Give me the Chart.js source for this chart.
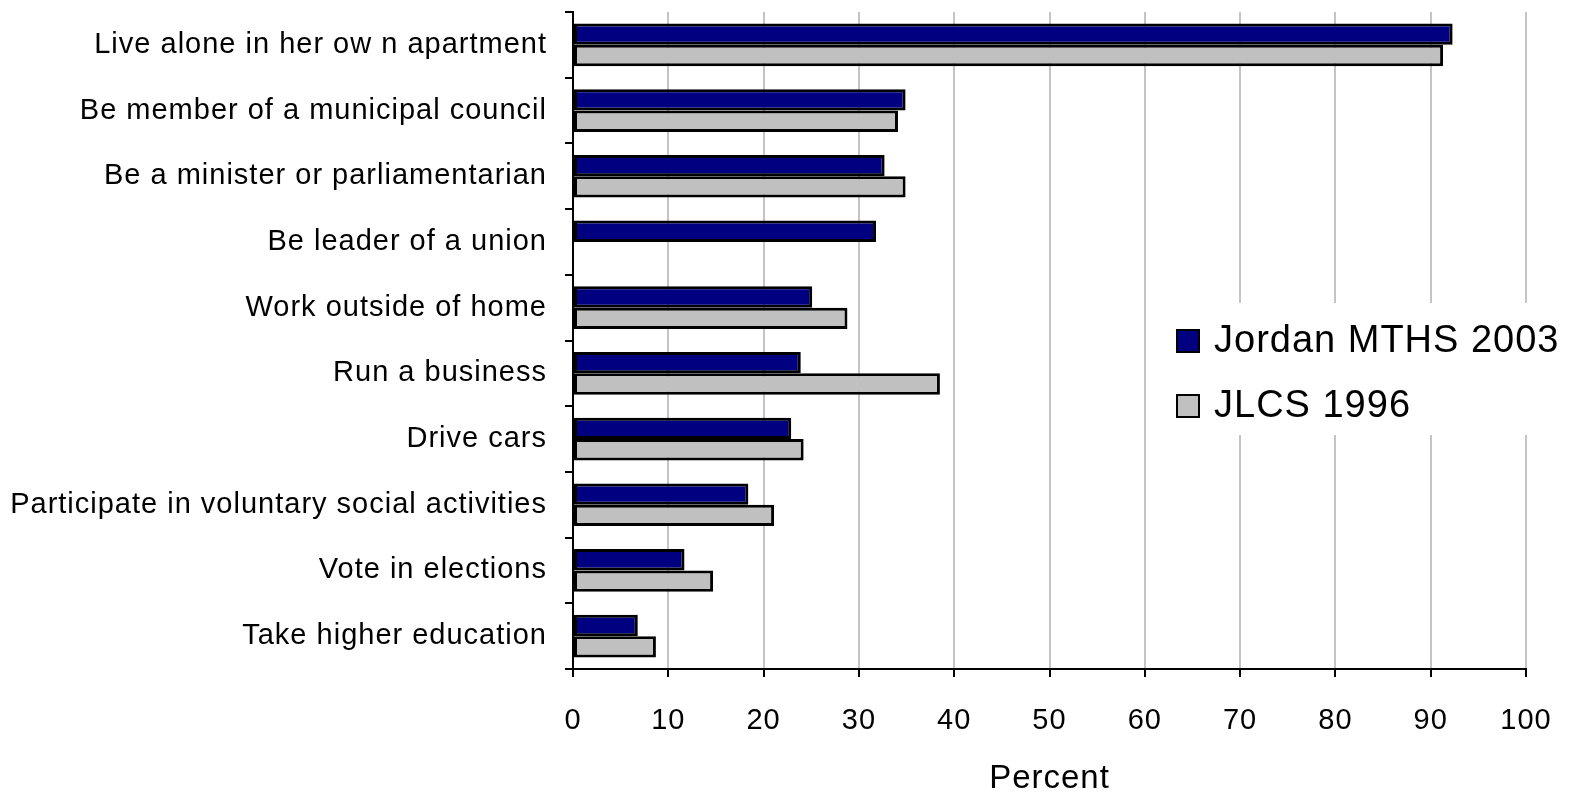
<!DOCTYPE html>
<html>
<head>
<meta charset="utf-8">
<title>Women's roles survey</title>
<script src="https://cdn.jsdelivr.net/npm/chart.js@4"></script>
<style>
  html, body { margin: 0; padding: 0; background: #fff; }
  #chart { display: block; }
</style>
</head>
<body>
<canvas id="chart" width="1569" height="792"></canvas>
<script>
// Categories, top to bottom
const categories = [
    'Live alone in her ow n apartment',
    'Be member of a municipal council',
    'Be a minister or parliamentarian',
    'Be leader of a union',
    'Work outside of home',
    'Run a business',
    'Drive cars',
    'Participate in voluntary social activities',
    'Vote in elections',
    'Take higher education'
];

// Percent, per survey
const mths2003 = [92.3, 34.9, 32.7, 31.8, 25.1, 23.9, 22.9, 18.4, 11.7, 6.8];
const jlcs1996 = [91.3, 34.1, 34.9, null, 28.8, 38.5, 24.2, 21.1, 14.7, 8.7];

const xTicks = [0, 10, 20, 30, 40, 50, 60, 70, 80, 90, 100];

const FONT = 'Liberation Sans, Arial, sans-serif';

// slightly looser text spacing for everything on the canvas
const looseText = {
    id: 'looseText',
    beforeDraw(chart) {
        chart.ctx.letterSpacing = '1px';
    }
};

// legend drawn over the plot, with a white patch behind it
const overlayLegend = {
    id: 'overlayLegend',
    afterDraw(chart) {
        const c = chart.ctx;
        c.save();
        c.fillStyle = '#ffffff';
        c.fillRect(1160, 303, 409, 132);
        c.font = '38px ' + FONT;
        c.textBaseline = 'middle';
        chart.data.datasets.forEach((ds, i) => {
            const y = 341 + i * 65;
            c.fillStyle = ds.backgroundColor;
            c.fillRect(1177, y - 11, 22, 22);
            c.lineWidth = 2;
            c.strokeStyle = '#000';
            c.strokeRect(1177, y - 11, 22, 22);
            c.fillStyle = '#000';
            c.fillText(ds.label, 1214, y + 1);
        });
        c.restore();
    }
};

new Chart(document.getElementById('chart'), {
    type: 'bar',
    data: {
        labels: categories,
        datasets: [
            {
                label: 'Jordan MTHS 2003',
                data: mths2003,
                backgroundColor: '#000080',
                borderColor: '#000000',
                borderWidth: 3,
                borderSkipped: false,
                categoryPercentage: 0.65,
                barPercentage: 1.0
            },
            {
                label: 'JLCS 1996',
                data: jlcs1996,
                backgroundColor: '#c0c0c0',
                borderColor: '#000000',
                borderWidth: 3,
                borderSkipped: false,
                categoryPercentage: 0.65,
                barPercentage: 1.0
            }
        ]
    },
    options: {
        indexAxis: 'y',
        responsive: false,
        animation: false,
        devicePixelRatio: 1,
        layout: { padding: { left: 0, right: 43, top: 12, bottom: 0 } },
        scales: {
            x: {
                min: 0,
                max: 100,
                afterBuildTicks: (scale) => { scale.ticks = xTicks.map(v => ({ value: v })); },
                afterFit: (scale) => {
                    scale.height = 123;
                    scale.paddingLeft = 0;
                    scale.paddingRight = 0;
                },
                grid: {
                    color: (ctx) => ctx.tick && ctx.tick.value === 0 ? 'rgba(0,0,0,0)' : '#c4c4c4',
                    lineWidth: 2,
                    tickColor: '#000',
                    tickLength: 8,
                    drawOnChartArea: true
                },
                border: { color: '#000', width: 2 },
                ticks: {
                    color: '#000',
                    font: { family: FONT, size: 29 },
                    padding: 27,
                    maxRotation: 0
                },
                title: {
                    display: true,
                    text: 'Percent',
                    color: '#000',
                    font: { family: FONT, size: 33 },
                    padding: { top: 0, bottom: -7 }
                }
            },
            y: {
                afterFit: (scale) => {
                    scale.width = 573;
                    scale.paddingTop = 0;
                    scale.paddingBottom = 0;
                },
                grid: {
                    drawOnChartArea: false,
                    color: '#000',
                    tickColor: '#000',
                    lineWidth: 2,
                    tickLength: 8,
                    offset: true
                },
                border: { color: '#000', width: 2 },
                ticks: {
                    color: '#000',
                    font: { family: FONT, size: 29 },
                    padding: 18
                }
            }
        },
        plugins: {
            legend: { display: false },
            tooltip: { enabled: false }
        }
    },
    plugins: [looseText, overlayLegend]
});
</script>
</body>
</html>
